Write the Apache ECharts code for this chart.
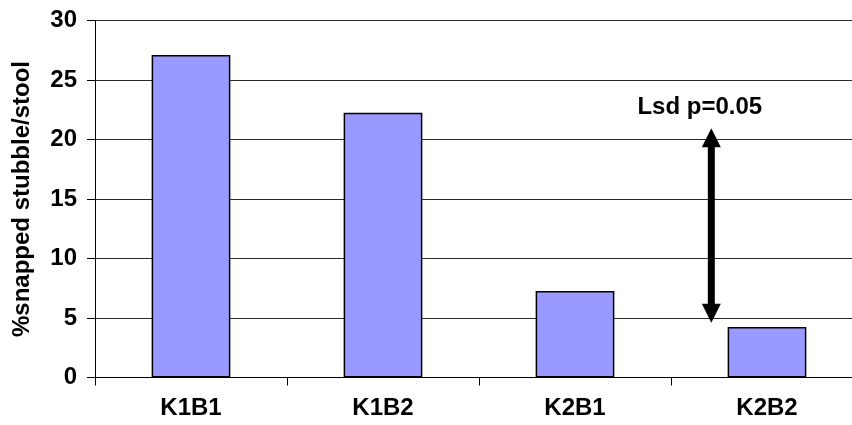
<!DOCTYPE html>
<html><head><meta charset="utf-8">
<script src="https://cdn.jsdelivr.net/npm/echarts@6/dist/echarts.min.js"></script>
<style>html,body{margin:0;padding:0;background:#fff}#chart{width:852px;height:425px}</style>
</head><body><div id="chart"></div>
<script>
// ---- data ----
const categories = ['K1B1', 'K1B2', 'K2B1', 'K2B2'];
const snappedPct = [27.1, 22.25, 7.27, 4.24];
const yMin = 0, yMax = 30, yStep = 5;
const yTitle = '%snapped stubble/stool';
// LSD arrow: x position in category-band units, low and high values
const lsdX = [3.21];
const lsdLow = [4.6];
const lsdHigh = [20.95];
const lsdText = ['Lsd p=0.05'];
const lsdTextX = [3.15];
const lsdTextY = [22.7];

const FONT = '"Liberation Sans", Arial, sans-serif';
const FS = 24;
const chart = echarts.init(document.getElementById('chart'), null, {renderer: 'canvas'});

const lsdData = lsdX.map((x, i) => [x, lsdLow[i], lsdHigh[i], lsdTextX[i], lsdTextY[i]]);

chart.setOption({
  animation: false,
  backgroundColor: '#fff',
  grid: {left: 95, top: 20.5, bottom: 47.5, width: 768, containLabel: false, outerBoundsMode: 'none'},
  xAxis: [{
    type: 'category',
    data: categories,
    boundaryGap: true,
    axisLine: {lineStyle: {color: '#000', width: 1}},
    axisTick: {show: true, length: 8, lineStyle: {color: '#000'}},
    axisLabel: {color: '#000', fontSize: FS, fontWeight: 'bold', fontFamily: FONT, margin: 19}
  }, {
    type: 'value', min: 0, max: categories.length, show: false
  }],
  yAxis: {
    type: 'value', min: yMin, max: yMax, interval: yStep,
    name: yTitle, nameLocation: 'middle', nameGap: 61, nameRotate: 90,
    nameTextStyle: {color: '#000', fontSize: FS, fontWeight: 'bold', fontFamily: FONT},
    axisLine: {show: true, lineStyle: {color: '#000', width: 1}},
    axisTick: {show: true, length: 8, lineStyle: {color: '#000'}},
    axisLabel: {color: '#000', fontSize: FS, fontWeight: 'bold', fontFamily: FONT, margin: 18},
    splitLine: {show: true, lineStyle: {color: '#2a2a2a', width: 1}}
  },
  series: [{
    type: 'bar',
    data: snappedPct,
    barWidth: '41%',
    itemStyle: {color: '#9999FF', borderColor: '#000', borderWidth: 1.5}
  }, {
    type: 'custom',
    xAxisIndex: 1,
    yAxisIndex: 0,
    data: lsdData,
    renderItem: function (params, api) {
      const x = api.value(0), lo = api.value(1), hi = api.value(2);
      const pTop = api.coord([x, hi]);
      const pBot = api.coord([x, lo]);
      const pTxt = api.coord([api.value(3), api.value(4)]);
      const hw = 9.5, hh = 19, sw = 3.5;
      return {
        type: 'group',
        children: [
          {type: 'polygon', shape: {points: [[pTop[0], pTop[1]], [pTop[0] + hw, pTop[1] + hh], [pTop[0] - hw, pTop[1] + hh]]}, style: {fill: '#000'}},
          {type: 'polygon', shape: {points: [[pBot[0], pBot[1]], [pBot[0] + hw, pBot[1] - hh], [pBot[0] - hw, pBot[1] - hh]]}, style: {fill: '#000'}},
          {type: 'rect', shape: {x: pTop[0] - sw, y: pTop[1] + hh - 1, width: 2 * sw, height: pBot[1] - pTop[1] - 2 * hh + 2}, style: {fill: '#000'}},
          {type: 'text', x: pTxt[0], y: pTxt[1], style: {text: lsdText[params.dataIndex], fill: '#000', font: 'bold ' + FS + 'px ' + FONT, align: 'center', verticalAlign: 'middle'}}
        ]
      };
    }
  }]
});
</script></body></html>
